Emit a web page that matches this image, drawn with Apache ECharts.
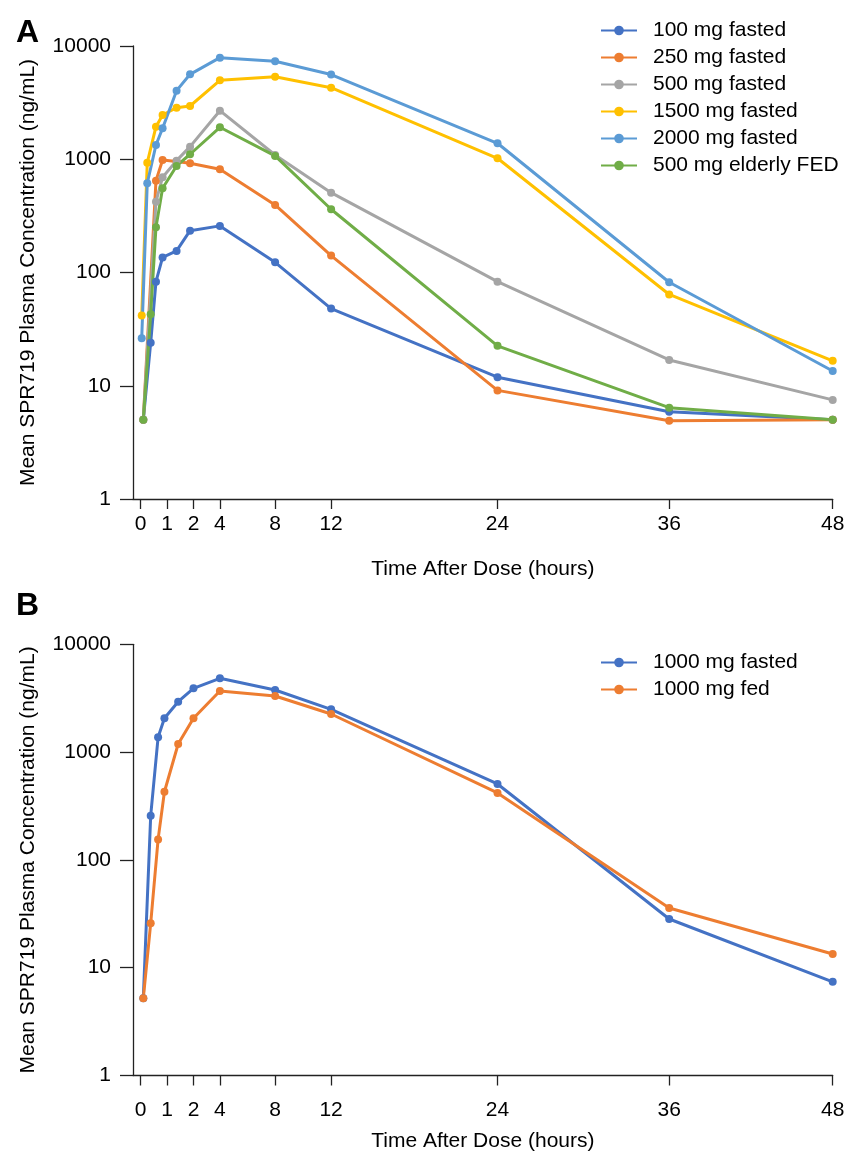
<!DOCTYPE html>
<html>
<head>
<meta charset="utf-8">
<script src="https://cdn.jsdelivr.net/npm/echarts@6/dist/echarts.min.js"></script>
<style>
  html, body { margin: 0; padding: 0; background: #fff; }
  #chart { width: 847px; height: 1152px; }
</style>
</head>
<body>
<div id="chart"></div>
<script>
// ---------- data ----------
const tickHours = [0, 1, 2, 4, 8, 12, 24, 36, 48];
const yTicks = [1, 10, 100, 1000, 10000];

// Panel A sampling times (hours)
const timesA = [0.04, 0.1, 0.25, 0.38, 0.58, 0.83, 1.36, 1.87, 4, 8, 12, 24, 36, 48];
const namesA = ['100 mg fasted', '250 mg fasted', '500 mg fasted', '1500 mg fasted', '2000 mg fasted', '500 mg elderly FED'];
const mg100 =   [null, 5, null, 24, 83, 136, 155, 234, 258, 123, 48, 11.9, 5.9, 5.0];
const mg250 =   [null, 5, null, null, 647, 986, 955, 922, 816, 395, 141, 9.1, 4.9, 5.0];
const mg500 =   [null, 5, null, null, 422, 694, 972, 1292, 2685, 1091, 507, 83, 16.9, 7.5];
const mg1500 =  [41.7, null, 933, null, 1940, 2460, 2853, 2952, 4980, 5358, 4285, 1020, 64, 16.6];
const mg2000 =  [26.3, null, 614, null, 1337, 1877, 4033, 5623, 7888, 7330, 5600, 1384, 82, 13.5];
const mg500eld = [null, 5, null, 42.8, 251, 555, 873, 1107, 1916, 1070, 362, 22.5, 6.4, 5.0];

// Panel B
const timesB = [0.1, 0.38, 0.66, 0.9, 1.42, 2, 4, 8, 12, 24, 36, 48];
const namesB = ['1000 mg fasted', '1000 mg fed'];
const mg1000fasted = [5.2, 257, 1372, 2059, 2935, 3908, 4838, 3767, 2495, 506, 28.3, 7.4];
const mg1000fed =    [5.2, 25.8, 155, 429, 1189, 2059, 3689, 3315, 2256, 418, 35.8, 13.4];

const colorsA = ['#4472C4', '#ED7D31', '#A5A5A5', '#FFC000', '#5B9BD5', '#70AD47'];
const colorsB = ['#4472C4', '#ED7D31'];

// ---------- axis transform: the original time axis is non-uniform (0,1,2,4 equally spaced) ----------
const tickScale = [0, 1, 2, 3, 5.09, 7.21, 13.51, 20.01, 26.2];
function u(t) {
  for (let i = 1; i < tickHours.length; i++) {
    if (t <= tickHours[i]) {
      const a = tickHours[i - 1], b = tickHours[i];
      return tickScale[i - 1] + (t - a) / (b - a) * (tickScale[i] - tickScale[i - 1]);
    }
  }
  return tickScale[tickScale.length - 1];
}
const tickU = tickHours.map(u);
function labelFor(v) {
  let best = 0, bd = Infinity;
  tickU.forEach((x, i) => { const d = Math.abs(x - v); if (d < bd) { bd = d; best = i; } });
  return String(tickHours[best]);
}
function pairs(times, vals) {
  const out = [];
  times.forEach((t, i) => { if (vals[i] != null) out.push([u(t), vals[i]]); });
  return out;
}

const FONT = 'Liberation Sans, Arial, Helvetica, sans-serif';
const FS = 21;

function xAxisCfg(gridIndex, labelMargin, nameGap) {
  return {
    type: 'value', gridIndex: gridIndex,
    min: -0.29, max: u(48),
    name: 'Time After Dose (hours)', nameLocation: 'middle', nameGap: nameGap,
    nameTextStyle: { fontFamily: FONT, fontSize: FS, color: '#000' },
    axisLine: { show: true, onZero: false, lineStyle: { color: '#222', width: 1.3 } },
    axisTick: { show: true, length: 10, customValues: tickU, lineStyle: { color: '#222', width: 1.3 } },
    axisLabel: { customValues: tickU, formatter: labelFor, margin: labelMargin, fontFamily: FONT, fontSize: FS, color: '#000' },
    splitLine: { show: false }
  };
}
function yAxisCfg(gridIndex) {
  return {
    type: 'log', gridIndex: gridIndex, logBase: 10, min: 1, max: 10000,
    name: 'Mean SPR719 Plasma Concentration (ng/mL)', nameLocation: 'middle', nameGap: 94,
    nameTextStyle: { fontFamily: FONT, fontSize: FS, color: '#000' },
    axisLine: { show: true, onZero: false, lineStyle: { color: '#222', width: 1.3 } },
    axisTick: { show: true, length: 13, inside: false, customValues: yTicks, lineStyle: { color: '#222', width: 1.3 } },
    axisLabel: { customValues: yTicks, formatter: v => String(Math.round(v)), margin: 22, fontFamily: FONT, fontSize: FS, color: '#000' },
    splitLine: { show: false }, minorTick: { show: false }
  };
}

const seriesA = [mg100, mg250, mg500, mg1500, mg2000, mg500eld].map((vals, i) => ({
  name: namesA[i], type: 'line', xAxisIndex: 0, yAxisIndex: 0,
  data: pairs(timesA, vals), symbol: 'circle', symbolSize: 8,
  lineStyle: { width: 3, color: colorsA[i] }, itemStyle: { color: colorsA[i] },
  emphasis: { disabled: true }, animation: false
}));
const seriesB = [mg1000fasted, mg1000fed].map((vals, i) => ({
  name: namesB[i], type: 'line', xAxisIndex: 1, yAxisIndex: 1,
  data: pairs(timesB, vals), symbol: 'circle', symbolSize: 8,
  lineStyle: { width: 3, color: colorsB[i] }, itemStyle: { color: colorsB[i] },
  emphasis: { disabled: true }, animation: false
}));

function legendCfg(names, top) {
  return {
    data: names, orient: 'vertical', left: 600, top: top, padding: 0,
    itemWidth: 36, itemHeight: 12, itemGap: 6,
    textStyle: { fontFamily: FONT, fontSize: FS, color: '#000', lineHeight: 20, padding: [0, 0, 0, 11] },
    selectedMode: false
  };
}

const chart = echarts.init(document.getElementById('chart'), null, { renderer: 'canvas' });
chart.setOption({
  backgroundColor: '#fff',
  animation: false,
  title: [
    { text: 'A', left: 11, top: 12, textStyle: { fontFamily: FONT, fontSize: 32, fontWeight: 'bold', color: '#000' } },
    { text: 'B', left: 11, top: 585, textStyle: { fontFamily: FONT, fontSize: 32, fontWeight: 'bold', color: '#000' } }
  ],
  legend: [legendCfg(namesA, 20), legendCfg(namesB, 652)],
  grid: [
    { left: 133, right: 14.3, top: 46, height: 453, containLabel: false, outerBoundsMode: 'none' },
    { left: 133, right: 14.3, top: 644.3, height: 431.2, containLabel: false, outerBoundsMode: 'none' }
  ],
  xAxis: [xAxisCfg(0, 15, 60), xAxisCfg(1, 24, 55.5)],
  yAxis: [yAxisCfg(0), yAxisCfg(1)],
  series: seriesA.concat(seriesB)
});
</script>
</body>
</html>
